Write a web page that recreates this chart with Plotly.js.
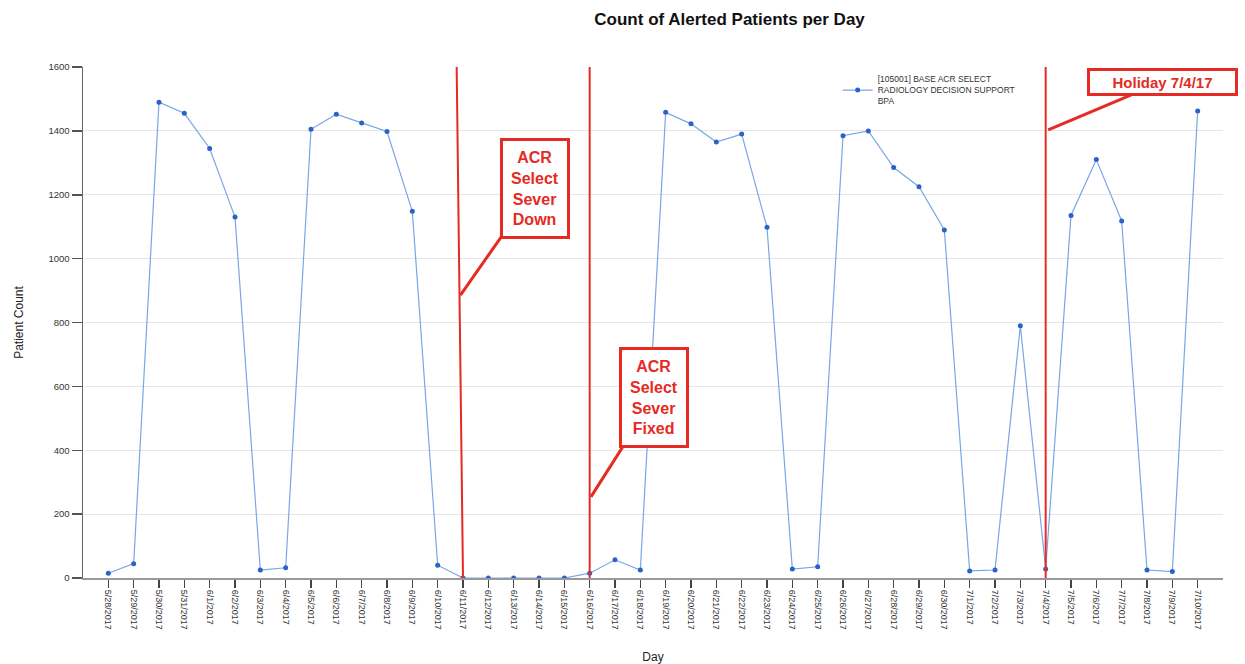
<!DOCTYPE html>
<html>
<head>
<meta charset="utf-8">
<script src="https://cdn.plot.ly/plotly-3.0.1.min.js"></script>
<style>html,body{margin:0;padding:0;background:#fff;}#chart{width:1245px;height:664px;}</style>
</head>
<body>
<div id="chart"></div>
<script>
const days = ['5/28/2017','5/29/2017','5/30/2017','5/31/2017','6/1/2017','6/2/2017','6/3/2017','6/4/2017','6/5/2017','6/6/2017','6/7/2017','6/8/2017','6/9/2017','6/10/2017','6/11/2017','6/12/2017','6/13/2017','6/14/2017','6/15/2017','6/16/2017','6/17/2017','6/18/2017','6/19/2017','6/20/2017','6/21/2017','6/22/2017','6/23/2017','6/24/2017','6/25/2017','6/26/2017','6/27/2017','6/28/2017','6/29/2017','6/30/2017','7/1/2017','7/2/2017','7/3/2017','7/4/2017','7/5/2017','7/6/2017','7/7/2017','7/8/2017','7/9/2017','7/10/2017'];
const patientCount = [15,45,1490,1455,1345,1130,25,32,1405,1452,1425,1398,1148,40,0,0,0,0,0,15,57,25,1458,1422,1365,1390,1098,28,35,1385,1400,1285,1225,1090,22,25,790,28,1135,1310,1118,25,20,1462];
const seriesName = '[105001] BASE ACR SELECT<br>RADIOLOGY DECISION SUPPORT<br>BPA';
const yTicks = [0,200,400,600,800,1000,1200,1400,1600];

const trace = {
  x: days, y: patientCount, type: 'scatter', mode: 'lines+markers',
  name: seriesName,
  line: {color: '#7aa6e6', width: 1.2},
  marker: {color: '#2a62c9', size: 5}
};

const red = '#e62a24';
const layout = {
  width: 1245, height: 664,
  margin: {l: 83, r: 22, t: 67, b: 86},
  paper_bgcolor: '#fff', plot_bgcolor: '#fff',
  font: {family: 'Arial, Liberation Sans, sans-serif', color: '#333'},
  title: {text: '<b>Count of Alerted Patients per Day</b>', x: 0.586, xanchor: 'center', y: 0.972, yanchor: 'middle', font: {size: 17, color: '#111'}},
  showlegend: true,
  legend: {x: 0.662, y: 1.0, xanchor: 'left', yanchor: 'top', bgcolor: '#fff', font: {size: 8.5, color: '#333'}, borderwidth: 0, itemwidth: 30},
  xaxis: {
    type: 'category', range: [-1, days.length], tickangle: 90,
    tickfont: {size: 9, color: '#333'},
    ticks: 'outside', ticklen: 8, tickcolor: '#444', tickwidth: 1.5,
    showline: true, linecolor: '#999', linewidth: 2, showgrid: false, zeroline: false,
    title: {text: 'Day', font: {size: 12, color: '#222'}, standoff: 24}
  },
  yaxis: {
    range: [0, 1600], tickvals: yTicks, tickfont: {size: 9.5, color: '#333'},
    ticks: 'outside', ticklen: 10, tickcolor: '#555', tickwidth: 1.5,
    showline: true, linecolor: '#666', linewidth: 1.5,
    gridcolor: '#e6e6e6', zeroline: false,
    title: {text: 'Patient Count', font: {size: 12, color: '#222'}, standoff: 22}
  },
  shapes: [
    {type: 'line', xref: 'x', yref: 'paper', x0: 14, x1: 13.75, y0: 0, y1: 1, line: {color: red, width: 2}},
    {type: 'line', xref: 'x', yref: 'paper', x0: 19, x1: 19, y0: 0, y1: 1, line: {color: red, width: 2}},
    {type: 'line', xref: 'x', yref: 'paper', x0: 37, x1: 37, y0: 0, y1: 1, line: {color: red, width: 2}}
  ],
  annotations: [
    {xref: 'x', yref: 'y', x: 13.9, y: 886, ax: 75, ay: -107, axref: 'pixel', ayref: 'pixel',
     text: '<b>ACR<br>Select<br>Sever<br>Down</b>', showarrow: true, arrowhead: 0, arrowwidth: 3, arrowcolor: red,
     bgcolor: '#fff', bordercolor: red, borderwidth: 3, borderpad: 8, font: {size: 16, color: red}, align: 'center'},
    {xref: 'x', yref: 'y', x: 19.05, y: 254, ax: 63, ay: -99, axref: 'pixel', ayref: 'pixel',
     text: '<b>ACR<br>Select<br>Sever<br>Fixed</b>', showarrow: true, arrowhead: 0, arrowwidth: 3, arrowcolor: red,
     bgcolor: '#fff', bordercolor: red, borderwidth: 3, borderpad: 8, font: {size: 16, color: red}, align: 'center'},
    {xref: 'x', yref: 'y', x: 37.1, y: 1403, ax: 114, ay: -48, axref: 'pixel', ayref: 'pixel',
     text: '<b>Holiday 7/4/17</b>', showarrow: true, arrowhead: 0, arrowwidth: 3, arrowcolor: red,
     width: 143, height: 20, bgcolor: '#fff', bordercolor: red, borderwidth: 3, borderpad: 1, font: {size: 15, color: red}, align: 'center'}
  ]
};

Plotly.newPlot('chart', [trace], layout, {displayModeBar: false, staticPlot: true});
</script>
</body>
</html>
